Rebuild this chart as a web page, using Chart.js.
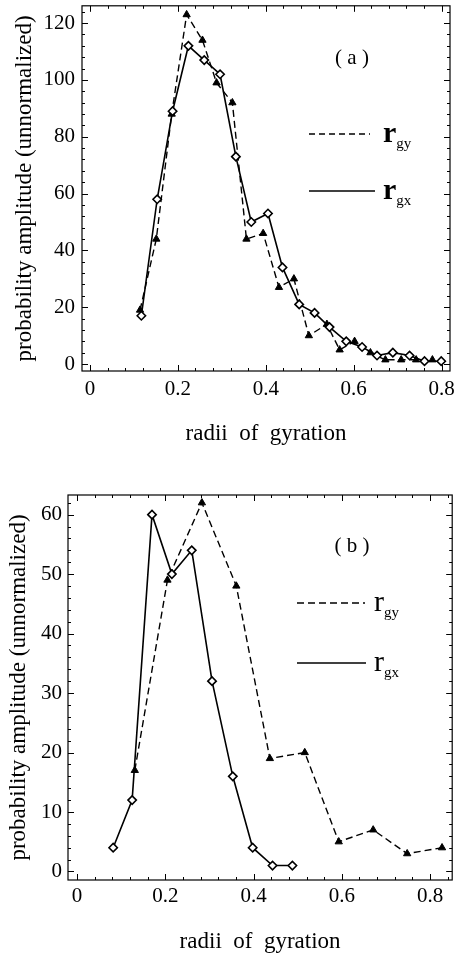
<!DOCTYPE html>
<html>
<head>
<meta charset="utf-8">
<script src="https://cdn.jsdelivr.net/npm/chart.js@4.4.1/dist/chart.umd.min.js"></script>
<style>
  html, body { margin: 0; padding: 0; background: #fff; }
  body { width: 458px; height: 960px; position: relative; overflow: hidden; }
  .box { position: absolute; left: 0; }
  canvas { display: block; }
</style>
</head>
<body>
<div class="box" style="top:0"><canvas id="chartA" width="458" height="470"></canvas></div>
<div class="box" style="top:470px"><canvas id="chartB" width="458" height="490"></canvas></div>
<script>
// ---------- data: panel (a) ----------
const xTicksA = [0, 0.2, 0.4, 0.6, 0.8];
const yTicksA = [0, 20, 40, 60, 80, 100, 120];
const rgxA_r = [0.117, 0.153, 0.188, 0.224, 0.260, 0.296, 0.332, 0.367, 0.405, 0.438, 0.476, 0.511, 0.545, 0.583, 0.619, 0.653, 0.689, 0.727, 0.761, 0.799];
const rgxA_p = [17, 58, 89, 112, 107, 102, 73, 50, 53, 34, 21, 18, 13, 8, 6, 3, 4, 3, 1, 1];
const rgyA_r = [0.114, 0.151, 0.186, 0.220, 0.256, 0.288, 0.324, 0.356, 0.394, 0.430, 0.464, 0.498, 0.539, 0.568, 0.602, 0.638, 0.672, 0.708, 0.742, 0.779];
const rgyA_p = [19, 44, 88, 123, 114, 99, 92, 44, 46, 27, 30, 10, 14, 5, 8, 4, 1.5, 1.5, 1.5, 1.5];

// ---------- data: panel (b) ----------
const xTicksB = [0, 0.2, 0.4, 0.6, 0.8];
const yTicksB = [0, 10, 20, 30, 40, 50, 60];
const rgxB_r = [0.082, 0.125, 0.170, 0.215, 0.260, 0.306, 0.353, 0.398, 0.443, 0.488];
const rgxB_p = [4, 12, 60, 50, 54, 32, 16, 4, 1, 1];
const rgyB_r = [0.131, 0.205, 0.283, 0.361, 0.437, 0.516, 0.593, 0.671, 0.748, 0.827];
const rgyB_p = [17, 49, 62, 48, 19, 20, 5, 7, 3, 4];

const xTitle = 'radii  of  gyration';
const yTitle = 'probability amplitude (unnormalized)';
const seriesNames = ['r', 'gx', 'r', 'gy'];

const FONT = "'Liberation Serif', 'Times New Roman', serif";

function pts(xs, ys) { return xs.map((v, i) => ({ x: v, y: ys[i] })); }
function fmt(v) { return v === 0 ? '0' : String(+v.toFixed(2)); }

// inside tick marks on all four sides + frame, using the chart's own scales
const frameTicks = {
  id: 'frameTicks',
  afterDatasetsDraw(chart, args, o) {
    const { ctx, chartArea: a, scales: { x, y } } = chart;
    ctx.save();
    ctx.strokeStyle = '#000';
    ctx.lineWidth = 1.2;
    ctx.setLineDash([]);
    ctx.strokeRect(a.left, a.top, a.right - a.left, a.bottom - a.top);
    ctx.lineWidth = 1;
    const near = (v, s) => Math.abs(v / s - Math.round(v / s)) < 1e-6;
    ctx.beginPath();
    for (let k = Math.ceil(x.min / o.xMinor - 1e-9); k * o.xMinor <= x.max + 1e-9; k++) {
      const v = k * o.xMinor;
      const px = Math.round(x.getPixelForValue(v)) + 0.5;
      const len = near(v, o.xMajor) ? 6 : 3;
      ctx.moveTo(px, a.bottom); ctx.lineTo(px, a.bottom - len);
      ctx.moveTo(px, a.top); ctx.lineTo(px, a.top + len);
    }
    for (let k = Math.ceil(y.min / o.yMinor - 1e-9); k * o.yMinor <= y.max + 1e-9; k++) {
      const v = k * o.yMinor;
      const py = Math.round(y.getPixelForValue(v)) + 0.5;
      const len = near(v, o.yMajor) ? 6 : 3;
      ctx.moveTo(a.left, py); ctx.lineTo(a.left + len, py);
      ctx.moveTo(a.right, py); ctx.lineTo(a.right - len, py);
    }
    ctx.stroke();
    ctx.restore();
  }
};

// in-plot legend (panel label + line samples with subscripted names)
const inLegend = {
  id: 'inLegend',
  afterDraw(chart, args, o) {
    const ctx = chart.ctx;
    ctx.save();
    ctx.fillStyle = '#000';
    ctx.strokeStyle = '#000';
    ctx.textBaseline = 'middle';
    ctx.textAlign = 'center';
    ctx.font = `21px ${FONT}`;
    ctx.fillText(o.label, o.labelX, o.labelY);
    o.rows.forEach(r => {
      ctx.lineWidth = 1.5;
      ctx.setLineDash(r.dash);
      ctx.beginPath();
      ctx.moveTo(r.x1, r.y); ctx.lineTo(r.x2, r.y);
      ctx.stroke();
      ctx.setLineDash([]);
      ctx.textAlign = 'left';
      ctx.textBaseline = 'alphabetic';
      ctx.font = `${o.rWeight} ${o.rSize}px ${FONT}`;
      ctx.fillText(r.main, r.tx, r.y + o.rBase);
      const w = ctx.measureText(r.main).width;
      ctx.font = `${o.subSize}px ${FONT}`;
      ctx.fillText(r.sub, r.tx + w, r.y + o.subBase);
    });
    ctx.restore();
  }
};

function makeChart(id, cfg) {
  const tickFont = { family: FONT, size: 21 };
  const titleFont = { family: FONT, size: 23 };
  return new Chart(document.getElementById(id), {
    type: 'scatter',
    data: {
      datasets: [
        {
          label: seriesNames[0] + seriesNames[1],
          data: cfg.gx,
          showLine: true,
          borderColor: '#000',
          borderWidth: 1.6,
          pointStyle: 'rectRot',
          pointRadius: 4.2,
          pointBorderWidth: 1.6,
          pointBackgroundColor: '#fff',
          pointBorderColor: '#000'
        },
        {
          label: seriesNames[2] + seriesNames[3],
          data: cfg.gy,
          showLine: true,
          borderColor: '#000',
          borderWidth: 1.4,
          borderDash: [7, 4],
          pointStyle: 'triangle',
          pointRadius: 4.2,
          pointBorderWidth: 1,
          pointBackgroundColor: '#000',
          pointBorderColor: '#000'
        }
      ]
    },
    options: {
      responsive: false,
      animation: false,
      devicePixelRatio: 1,
      events: [],
      layout: { padding: cfg.pad },
      plugins: {
        legend: { display: false },
        tooltip: { enabled: false },
        frameTicks: cfg.ticks,
        inLegend: cfg.legend
      },
      scales: {
        x: {
          type: 'linear',
          min: cfg.xMin, max: cfg.xMax,
          afterBuildTicks: s => { s.ticks = cfg.xTicks.map(v => ({ value: v })); },
          afterFit: s => { s.height = cfg.xH; s.paddingLeft = 0; s.paddingRight = 0; },
          grid: { display: false, drawTicks: false },
          border: { display: false },
          ticks: { font: tickFont, color: '#000', padding: cfg.xPad, maxRotation: 0, autoSkip: false, callback: v => fmt(v) },
          title: { display: true, text: xTitle, font: titleFont, color: '#000', padding: { top: 0, bottom: cfg.xTitlePad } }
        },
        y: {
          type: 'linear',
          min: cfg.yMin, max: cfg.yMax,
          afterBuildTicks: s => { s.ticks = cfg.yTicks.map(v => ({ value: v })); },
          afterFit: s => { s.width = cfg.yW; s.paddingTop = 0; s.paddingBottom = 0; },
          grid: { display: false, drawTicks: false },
          border: { display: false },
          ticks: { font: tickFont, color: '#000', padding: cfg.yPad, autoSkip: false, callback: v => fmt(v) },
          title: { display: true, text: yTitle, font: titleFont, color: '#000', padding: { top: cfg.yTitlePad, bottom: 0 } }
        }
      }
    },
    plugins: [frameTicks, inLegend]
  });
}

makeChart('chartA', {
  gx: pts(rgxA_r, rgxA_p), gy: pts(rgyA_r, rgyA_p),
  xTicks: xTicksA, yTicks: yTicksA,
  xMin: -0.018, xMax: 0.819, yMin: -2.45, yMax: 126.1,
  pad: { top: 4, right: 8, left: 0, bottom: 0 },
  xH: 99, yW: 82, xPad: 6, yPad: 7, xTitlePad: 22, yTitlePad: 11,
  ticks: { xMajor: 0.2, xMinor: 0.04, yMajor: 20, yMinor: 4 },
  legend: {
    label: '( a )', labelX: 352, labelY: 58,
    rWeight: 'bold', rSize: 30, rBase: 8, subSize: 15, subBase: 14,
    rows: [
      { dash: [6, 4], x1: 309, x2: 370, y: 134, tx: 383, main: seriesNames[2], sub: seriesNames[3] },
      { dash: [], x1: 309, x2: 375, y: 191, tx: 383, main: seriesNames[0], sub: seriesNames[1] }
    ]
  }
});

makeChart('chartB', {
  gx: pts(rgxB_r, rgxB_p), gy: pts(rgyB_r, rgyB_p),
  xTicks: xTicksB, yTicks: yTicksB,
  xMin: -0.0203, xMax: 0.85, yMin: -1.43, yMax: 63.3,
  pad: { top: 25, right: 4, left: 0, bottom: 0 },
  xH: 80, yW: 68, xPad: 4, yPad: 6, xTitlePad: 4, yTitlePad: 5,
  ticks: { xMajor: 0.2, xMinor: 0.04, yMajor: 10, yMinor: 2 },
  legend: {
    label: '( b )', labelX: 352, labelY: 76,
    rWeight: 'normal', rSize: 30, rBase: 8, subSize: 15, subBase: 14,
    rows: [
      { dash: [7, 4], x1: 297, x2: 365, y: 133, tx: 374, main: seriesNames[2], sub: seriesNames[3] },
      { dash: [], x1: 297, x2: 366, y: 193, tx: 374, main: seriesNames[0], sub: seriesNames[1] }
    ]
  }
});
</script>
</body>
</html>
